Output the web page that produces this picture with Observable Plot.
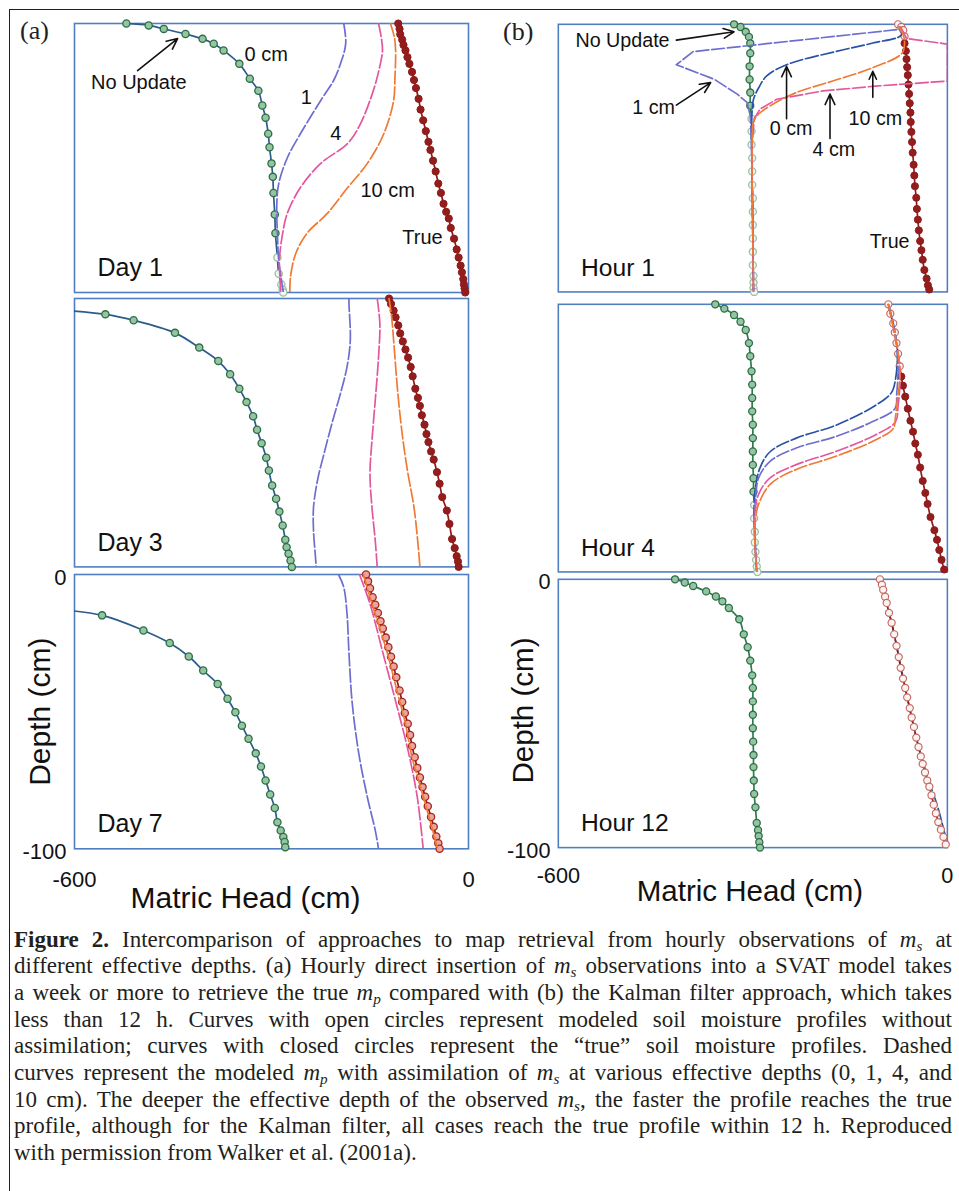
<!DOCTYPE html>
<html><head><meta charset="utf-8">
<script src="https://cdn.jsdelivr.net/npm/d3@7"></script>
<script src="https://cdn.jsdelivr.net/npm/@observablehq/plot@0.6"></script>
<style>
html,body{margin:0;padding:0;background:#fff;}
#root{position:relative;width:959px;height:1191px;overflow:hidden;background:#fff;}
#border{position:absolute;left:9px;top:9px;width:990px;height:1220px;border-top:1.5px solid #231f20;border-left:1.5px solid #231f20;}
.panel{position:absolute;}
.tag{position:absolute;font-family:"Liberation Serif","Times New Roman",serif;font-size:26px;line-height:26px;color:#231f20;}
#caption{position:absolute;left:14px;top:926.6px;width:938px;font-family:"Liberation Serif","Times New Roman",serif;font-size:23px;line-height:26.7px;color:#231f20;}
#caption .ln{white-space:nowrap;height:26.7px;}
#caption sub{font-size:0.66em;line-height:0;vertical-align:-0.28em;font-style:italic;}
</style></head><body>
<div id="root"><div id="border"></div>
<div class="tag" style="left:20px;top:18px;">(a)</div>
<div class="tag" style="left:503px;top:19px;">(b)</div>
<div id="caption"></div>
</div>
<script>
// ---------- data: [matric head (cm), depth (cm)] ----------
// (a) Day 1
const day1NoUpdate = [[-521,0],[-487,-0.7],[-464,-2],[-431,-3.9],[-405,-5.7],[-388,-7.5],[-373,-10],[-349,-15],[-333,-20.5],[-320,-25],[-314,-30.5],[-309,-35],[-305,-41],[-303,-46],[-300,-52],[-298,-57],[-297,-63],[-295,-71],[-294,-78],[-291,-87],[-289,-93],[-285,-97],[-283,-99],[-282,-100]];
const day1True = [[-107,0],[-105,-2],[-104,-4],[-101,-6],[-99,-8],[-96,-10],[-93,-12.5],[-90,-15],[-86,-18],[-83,-21],[-80,-24],[-76,-28],[-73,-32],[-69,-36],[-65,-40],[-61,-44],[-58,-47],[-54,-51],[-50,-55],[-46,-59.5],[-42,-63],[-38,-67],[-34,-70],[-30,-72.5],[-27,-76],[-22,-80],[-18,-84],[-15,-87],[-12,-90],[-10,-92.5],[-8,-95],[-7,-97],[-6,-98.5],[-5,-100]];
const day1Cm1 = [[-190,0],[-187,-7.5],[-195,-15],[-205,-21],[-225,-28.6],[-256,-41],[-276,-50],[-289,-59.5],[-292,-68],[-291,-78],[-289,-88],[-285,-95],[-282,-100]];
const day1Cm4 = [[-137,0],[-133,-5],[-131,-10],[-137,-18],[-145,-25],[-164,-37],[-184,-44.6],[-225,-52],[-256,-61],[-276,-70.6],[-283,-78],[-288,-88],[-287,-95],[-286,-100]];
const day1Cm10 = [[-119,0],[-113,-5],[-111,-10],[-112,-20],[-114,-28.6],[-129,-41],[-154,-52],[-184,-61],[-215,-70.6],[-246,-78],[-263,-85.5],[-271,-94],[-272,-100]];
// (a) Day 3
const day3NoUpdate = [[-640,-4],[-553,-5.9],[-510,-8.1],[-447,-12.8],[-410,-18.3],[-381,-23.3],[-363,-28.2],[-349,-33.6],[-338,-38.6],[-328,-43.9],[-322,-48.9],[-315,-53.9],[-308,-59.3],[-304,-64.1],[-299,-69.7],[-293,-74.6],[-288,-79.4],[-283,-84.6],[-279,-89.9],[-277,-92.7],[-274,-95.1],[-271,-97.6],[-269,-100]];
const day3True = [[-121,0],[-118,-2],[-114,-4.5],[-111,-7],[-107,-10],[-104,-13],[-100,-16],[-96,-19],[-92,-22],[-88,-25.5],[-85,-29],[-81,-33.6],[-77,-37],[-74,-40],[-71,-43.5],[-67,-47],[-64,-50.5],[-61,-53.5],[-57,-57],[-53,-60],[-48,-64.7],[-44,-69],[-40,-74],[-33,-79],[-29,-84],[-25,-89.6],[-21,-93],[-18,-96],[-16,-98],[-15,-100]];
const day3Cm1 = [[-182,0],[-182,-2],[-180,-15.6],[-185,-25.5],[-195,-35.4],[-208,-46.6],[-220,-57.8],[-230,-67.8],[-236,-77.8],[-236,-86.5],[-233,-96.4],[-232,-100]];
const day3Cm4 = [[-139,0],[-135,-9.3],[-137,-21.8],[-142,-37.9],[-147,-52.9],[-150,-65.3],[-147,-77.8],[-142,-90.2],[-139,-100]];
const day3Cm10 = [[-121,0],[-117,-7],[-114,-15.6],[-108,-34.2],[-101,-50.4],[-93,-64.1],[-83,-77.8],[-76,-93.9],[-74,-100]];
// (a) Day 7
const day7NoUpdate = [[-640,-12.5],[-558,-14.9],[-495,-20.4],[-455,-25],[-426,-29.9],[-404,-35],[-382,-39.9],[-367,-45.3],[-355,-50.2],[-345,-55.1],[-335,-59.9],[-324,-65.2],[-316,-70],[-309,-75.1],[-302,-80.2],[-295,-85.1],[-291,-90.3],[-286,-93.3],[-282,-95.7],[-280,-97.5],[-279,-99.4]];
const day7True = [[-156,0],[-153,-2.5],[-150,-5],[-146,-8.3],[-142,-11],[-138,-14],[-134,-17],[-130.5,-19.7],[-126,-23],[-122,-26.5],[-118,-30],[-114,-33.5],[-110,-37.5],[-105,-42.3],[-101,-46.5],[-97,-50.5],[-92.5,-54.4],[-89,-58.5],[-86,-62.5],[-82,-66.6],[-78,-70.5],[-74,-74],[-70,-77.5],[-66,-81],[-62,-84.5],[-57,-88.4],[-53,-92],[-49,-95.5],[-46,-98],[-44,-100]];
const day7Cm1 = [[-198,0],[-190,-4.6],[-185,-14.3],[-182,-28.9],[-177,-47.1],[-167,-65.4],[-154,-81.2],[-142,-93.3],[-137,-100]];
const day7Cm4 = [[-166,0],[-150,-10.7],[-130,-28.9],[-110,-47.1],[-92,-64.2],[-78,-81.2],[-69,-100]];
const day7Cm10 = [[-160,0],[-150,-8.3],[-135,-19.7],[-122,-30],[-109,-42.3],[-96,-54.4],[-86,-66.6],[-73,-77.5],[-60,-88.4],[-47,-100]];
// (b) Hour 1
const hour1NoUpdate = [[-329,0],[-319,-1],[-311,-2.8],[-306,-4.7],[-304,-7.1],[-304,-10.8],[-305,-15.7],[-305,-20.6],[-304,-25.5],[-304,-30.4],[-302,-35.3],[-302,-40],[-302,-45],[-301,-50],[-301,-55],[-301,-60],[-300,-65],[-300,-70],[-300,-75],[-300,-80],[-300,-85],[-300,-90],[-299,-94],[-299,-96.5],[-299,-98.5],[-298,-100]];
const hour1True = [[-76,0],[-71,-1],[-68,-2.2],[-66,-4.5],[-66,-7.1],[-64,-10],[-63,-13],[-62,-16],[-61,-19],[-60,-22.5],[-59,-26],[-58,-29.5],[-57,-33],[-56.5,-36.5],[-55.5,-40.2],[-54.5,-44],[-53.5,-48],[-52,-52.5],[-51,-56.5],[-50,-60.5],[-48,-64.8],[-47,-69],[-45.5,-73],[-44,-77],[-42,-81],[-40,-84.4],[-38,-88],[-35.5,-91.8],[-32,-95],[-30,-97.5],[-28,-99.1]];
const hour1Cm0 = [[-74,-1],[-71,-4],[-115,-7],[-162,-9.6],[-248,-15.1],[-279,-19.4],[-291,-23.7],[-299,-28],[-301,-31.7],[-302,-40],[-301,-60],[-300,-80],[-299,-100]];
const hour1Cm1 = [[-78,-2],[-392,-10.2],[-418,-15.1],[-359,-20.6],[-324,-26.1],[-309,-29.2],[-304,-34.1],[-302,-45],[-301,-60],[-300,-80],[-299,-100]];
const hour1Cm4 = [[-72,-1],[-63,-5.3],[0,-7.4],[0,-21.2],[-111,-23.1],[-192,-24.9],[-263,-28],[-289,-31.7],[-298,-35.3],[-301,-45],[-301,-60],[-300,-80],[-299,-100]];
const hour1Cm10 = [[-74,-1],[-68,-4],[-66,-7],[-70,-10.8],[-116,-16.3],[-177,-21.2],[-233,-25.5],[-273,-30.4],[-291,-33.5],[-299,-36.5],[-301,-45],[-301,-60],[-300,-80],[-299,-100]];
// (b) Hour 4
const hour4NoUpdate = [[-358,0],[-344,-1.6],[-329,-4],[-319,-6.5],[-311,-9.6],[-306,-14.5],[-304,-19.4],[-302,-25],[-301,-30],[-301,-35],[-301,-40],[-300,-45],[-300,-50],[-300,-55],[-300,-60],[-299,-65],[-299,-70],[-298,-75],[-298,-80],[-297,-85],[-297,-89],[-296,-92.5],[-295,-95.5],[-294,-98],[-293,-100]];
const hour4True = [[-91,0],[-88,-3.5],[-83.5,-7.1],[-81,-10.5],[-78.5,-14.5],[-76,-18.5],[-73.5,-23.1],[-71,-27],[-68.5,-30.4],[-65,-34.5],[-61,-39],[-57,-43.5],[-53,-47.6],[-49.5,-52],[-45.5,-56.2],[-42,-61],[-38,-66],[-34,-70.5],[-30.5,-74.6],[-26,-79.5],[-20,-84.4],[-16,-88],[-12.5,-91.8],[-9,-95.5],[-5,-99.1]];
const hour4Cm0 = [[-91,0],[-83.5,-7.1],[-78.5,-14.5],[-77,-19.4],[-80,-28],[-86,-32.9],[-111,-37.8],[-172,-45.2],[-233,-50],[-273,-55],[-289,-61.1],[-296,-68.5],[-298,-75],[-297,-85],[-294,-100]];
const hour4Cm1 = [[-91,0],[-78.5,-14.5],[-76,-24.3],[-78,-33],[-81,-39],[-116,-43.9],[-172,-49.4],[-233,-53.7],[-273,-58.6],[-291,-64.8],[-296,-73.4],[-298,-80],[-297,-88],[-294,-100]];
const hour4Cm4 = [[-91,0],[-78.5,-14.5],[-73.5,-23.1],[-73,-29.2],[-76,-38],[-80,-43.9],[-111,-48.8],[-172,-55],[-233,-59.9],[-273,-64.8],[-291,-70.9],[-297,-78.3],[-297,-88],[-294,-100]];
const hour4Cm10 = [[-91,0],[-78.5,-14.5],[-73.5,-23.1],[-74,-30],[-77,-35.3],[-80,-42],[-83.5,-46.4],[-111,-50.7],[-172,-56.8],[-233,-61.7],[-273,-67.2],[-291,-74.6],[-296,-80.7],[-297,-88],[-294,-100]];
// (b) Hour 12
const hour12NoUpdate = [[-420,0],[-405,-1.2],[-392,-2.5],[-372,-4.5],[-357,-6.4],[-347,-8.2],[-337,-10.7],[-321,-14.9],[-314,-20.5],[-308,-25.3],[-304,-30.3],[-301,-35.8],[-300,-40.5],[-300,-45.5],[-300,-50.5],[-300,-55.5],[-299.5,-60.5],[-299,-65.5],[-299,-70],[-298.5,-75],[-298,-80],[-296,-85],[-294,-90.8],[-292,-93.5],[-291,-95.7],[-290,-98],[-289,-100]];
const hour12True = [[-104,0],[-101,-2],[-99,-3.9],[-96,-6.5],[-93.6,-8.8],[-90,-12.5],[-86,-16.2],[-82,-20.5],[-78.4,-24.8],[-75,-29],[-72,-33],[-68.4,-37],[-65,-40.5],[-62,-44],[-58,-48],[-55,-51.5],[-51.5,-55],[-48,-59],[-44.5,-62.5],[-41,-66],[-38,-68.8],[-34.5,-72],[-31,-75],[-27.8,-77.3],[-24.5,-80.5],[-21,-84],[-17.7,-87.2],[-14,-90.5],[-10,-93.3],[-6,-96],[-2.5,-98.8]];
const hour12Cm0 = [[-104,0],[-86,-16.2],[-68,-37],[-48,-59],[-30,-74],[-16,-84],[-8,-91],[-3,-96],[-1,-100]];

// tick labels
const headTicks = [-600, 0];
const depthTicks = [0, -100];

// annotations (data units)
const day1Labels = [
  {x:-308, y:-11.5, text:"0 cm"},
  {x:-502, y:-21.9, text:"No Update"},
  {x:-247, y:-27.5, text:"1"},
  {x:-202, y:-40.9, text:"4"},
  {x:-123, y:-62.1, text:"10 cm"},
  {x:-70, y:-79.6, text:"True"}
];
const day1Arrows = [{x1:-504, y1:-17.5, x2:-443, y2:-5.6}];
const hour1Labels = [
  {x:-501, y:-6.1, text:"No Update"},
  {x:-453, y:-31, text:"1 cm"},
  {x:-241, y:-39, text:"0 cm"},
  {x:-175, y:-47, text:"4 cm"},
  {x:-111, y:-35.3, text:"10 cm"},
  {x:-89, y:-81.3, text:"True"}
];
const hour1Arrows = [
  {x1:-418, y1:-5.9, x2:-329, y2:-2.8},
  {x1:-418, y1:-30.2, x2:-365, y2:-21.8},
  {x1:-248, y1:-35.3, x2:-248, y2:-15.7},
  {x1:-181, y1:-42.7, x2:-181, y2:-26.1},
  {x1:-115, y1:-27.3, x2:-115, y2:-17.6}
];

// ---------- styling ----------
const FRAME = "#4f7fc2";
const C = {
  nuLineA: "#2b5c8c", nuLineB: "#2e7a4c", nuStroke: "#2a6f45", nuFill: "#96c3a1",
  nuPaleStroke: "#9cbfa4", nuPaleFill: "#f1f7f1",
  tr: "#8e1b1b", trFill: "#931d1d", trPaleStroke: "#c26a62", trPaleFill: "#fdf3f1",
  cm0: "#2753a6", cm1: "#6e6ed0", cm4: "#e3579e", cm10: "#f07a35"
};
const FONT = "'Liberation Sans', Arial, sans-serif";
const M = 12;

const panels = [
  {frame:[74,23,394,269], nu:day1NoUpdate, tr:day1True, nuLine:C.nuLineA,
   dashed:[[day1Cm1,C.cm1],[day1Cm4,C.cm4],[day1Cm10,C.cm10]], nuPaleBelow:-85,
   day:"Day 1", labels:day1Labels, arrows:day1Arrows, bottom:false},
  {frame:[74,298.3,394,268.4], nu:day3NoUpdate, tr:day3True, nuLine:C.nuLineA,
   dashed:[[day3Cm1,C.cm1],[day3Cm4,C.cm4],[day3Cm10,C.cm10]], nuPaleBelow:null,
   day:"Day 3", labels:[], arrows:[], bottom:false},
  {frame:[74,574,394,274.3], nu:day7NoUpdate, tr:day7True, nuLine:C.nuLineA,
   dashed:[[day7Cm1,C.cm1],[day7Cm4,C.cm4],[day7Cm10,C.cm10]], nuPaleBelow:null, trPale:"mid",
   day:"Day 7", labels:[], arrows:[], bottom:true, axisDx:-34, axisDy:0, titleDx:-26, titleDy:50, tickPad:23},
  {frame:[558.3,24,395,271.7], nu:hour1NoUpdate, tr:hour1True, nuLine:C.nuLineB,
   dashed:[[hour1Cm0,C.cm0,"catmull-rom"],[hour1Cm1,C.cm1,"linear"],[hour1Cm4,C.cm4,"linear"],[hour1Cm10,C.cm10,"catmull-rom"]],
   nuPaleBelow:-33, trPaleAbove:-6, day:"Hour 1", labels:hour1Labels, arrows:hour1Arrows, bottom:false},
  {frame:[558.3,304,395,271.7], nu:hour4NoUpdate, tr:hour4True, nuLine:C.nuLineB,
   dashed:[[hour4Cm0,C.cm0],[hour4Cm1,C.cm1],[hour4Cm4,C.cm4],[hour4Cm10,C.cm10]],
   nuPaleBelow:-70, trPaleAbove:-24, day:"Hour 4", labels:[], arrows:[], bottom:false},
  {frame:[558.3,579.3,395,272.4], nu:hour12NoUpdate, tr:hour12True, nuLine:C.nuLineB,
   dashed:[[hour12Cm0,C.cm0]], dashedBelow:true, nuPaleBelow:null, trPaleAbove:-101, day:"Hour 12", labels:[], arrows:[],
   bottom:true, axisDx:-35, axisDy:-3, titleDx:-3, titleDy:45, tickPad:20}
];

const root = document.getElementById("root");
const X = d => d[0], Y = d => d[1];

for (const p of panels) {
  const [fx, fy, w, h] = p.frame;
  const marks = [Plot.frame({stroke: FRAME, strokeWidth: 1.6})];
  if (p.bottom) {
    marks.push(Plot.axisY({ticks: depthTicks, tickSize: 0, tickPadding: 8, tickFormat: d => String(d), fontSize: 22, label: null, dy: 3, fill: "#111"}));
    marks.push(Plot.axisX({ticks: headTicks, tickSize: 0, tickPadding: p.tickPad, tickFormat: d => String(d), fontSize: 22, label: null, fill: "#111"}));
    marks.push(Plot.text(["Depth (cm)"], {frameAnchor: "left", dx: p.axisDx, dy: p.axisDy, rotate: -90, textAnchor: "middle", lineAnchor: "middle", fontSize: 30, fill: "#111"}));
    marks.push(Plot.text(["Matric Head (cm)"], {frameAnchor: "bottom", dx: p.titleDx, dy: p.titleDy, textAnchor: "middle", lineAnchor: "middle", fontSize: 30, fill: "#111"}));
  }
  const dashedMarks = p.dashed.map(([data, color, curve]) =>
    Plot.line(data, {x: X, y: Y, stroke: color, strokeWidth: 1.7, strokeDasharray: "13,3", curve: curve || "catmull-rom", clip: true}));
  // no update
  marks.push(Plot.line(p.nu, {x: X, y: Y, stroke: p.nuLine, strokeWidth: 1.7, curve: "catmull-rom", clip: true}));
  const nuIn = p.nu.filter(d => d[0] >= -600);
  const nuPale = d => p.nuPaleBelow != null && d[1] < p.nuPaleBelow;
  marks.push(Plot.dot(nuIn.filter(d => !nuPale(d)), {x: X, y: Y, r: 3.6, stroke: C.nuStroke, fill: C.nuFill, strokeWidth: 1.3}));
  marks.push(Plot.dot(nuIn.filter(nuPale), {x: X, y: Y, r: 3.6, stroke: C.nuPaleStroke, fill: C.nuPaleFill, strokeWidth: 1.3}));
  if (p.dashedBelow) marks.push(...dashedMarks);
  // true
  marks.push(Plot.line(p.tr, {x: X, y: Y, stroke: C.tr, strokeWidth: 1.7, curve: "catmull-rom", clip: true}));
  const trPale = d => (p.trPaleAbove != null && d[1] > p.trPaleAbove);
  if (p.trPale === "mid") {
    marks.push(Plot.dot(p.tr, {x: X, y: Y, r: 3.6, stroke: "#a8271f", fill: "#e8a69d", strokeWidth: 1.3}));
  } else {
    marks.push(Plot.dot(p.tr.filter(d => !trPale(d)), {x: X, y: Y, r: 3.6, stroke: C.tr, fill: C.trFill, strokeWidth: 1}));
    marks.push(Plot.dot(p.tr.filter(trPale), {x: X, y: Y, r: 3.6, stroke: C.trPaleStroke, fill: C.trPaleFill, strokeWidth: 1.2}));
  }
  if (!p.dashedBelow) marks.push(...dashedMarks);
  // annotations
  if (p.labels.length) {
    marks.push(Plot.text(p.labels, {x: "x", y: "y", text: "text", textAnchor: "middle", fontSize: 20, fill: "#111"}));
  }
  if (p.arrows.length) {
    marks.push(Plot.arrow(p.arrows, {x1: "x1", y1: "y1", x2: "x2", y2: "y2", stroke: "#111", strokeWidth: 1.6, headLength: 11, headAngle: 50}));
  }
  marks.push(Plot.text([p.day], {x: -565, y: -91, textAnchor: "start", fontSize: 25, fill: "#111"}));

  const chart = Plot.plot({
    width: w + 2 * M, height: h + 2 * M,
    marginTop: M, marginRight: M, marginBottom: M, marginLeft: M,
    x: {domain: [-600, 0], axis: p.bottom ? undefined : null},
    y: {domain: [-100, 0], axis: p.bottom ? undefined : null},
    style: {background: "none", overflow: "visible", fontFamily: FONT, fontSize: "20px", color: "#111"},
    marks
  });
  const holder = document.createElement("div");
  holder.className = "panel";
  holder.style.left = (fx - M) + "px";
  holder.style.top = (fy - M) + "px";
  holder.appendChild(chart);
  root.appendChild(holder);
}

// ---------- caption ----------
const capLines = [
  "<b>Figure 2.</b> Intercomparison of approaches to map retrieval from hourly observations of <i>m</i><sub>s</sub> at",
  "different effective depths. (a) Hourly direct insertion of <i>m</i><sub>s</sub> observations into a SVAT model takes",
  "a week or more to retrieve the true <i>m</i><sub>p</sub> compared with (b) the Kalman filter approach, which takes",
  "less than 12 h. Curves with open circles represent modeled soil moisture profiles without",
  "assimilation; curves with closed circles represent the \u201ctrue\u201d soil moisture profiles. Dashed",
  "curves represent the modeled <i>m</i><sub>p</sub> with assimilation of <i>m</i><sub>s</sub> at various effective depths (0, 1, 4, and",
  "10 cm). The deeper the effective depth of the observed <i>m</i><sub>s</sub>, the faster the profile reaches the true",
  "profile, although for the Kalman filter, all cases reach the true profile within 12 h. Reproduced",
  "with permission from Walker et al. (2001a)."
];
const cap = document.getElementById("caption");
const TARGET = 938;
capLines.forEach((html, i) => {
  const div = document.createElement("div");
  div.className = "ln";
  const span = document.createElement("span");
  span.innerHTML = html;
  div.appendChild(span);
  cap.appendChild(div);
  if (i < capLines.length - 1) {
    const nat = span.getBoundingClientRect().width;
    const extra = TARGET - nat;
    const spaces = (span.textContent.match(/ /g) || []).length;
    if (extra >= 0) span.style.wordSpacing = (extra / spaces) + "px";
    else span.style.letterSpacing = (extra / span.textContent.length) + "px";
  }
});
</script>
</body></html>
